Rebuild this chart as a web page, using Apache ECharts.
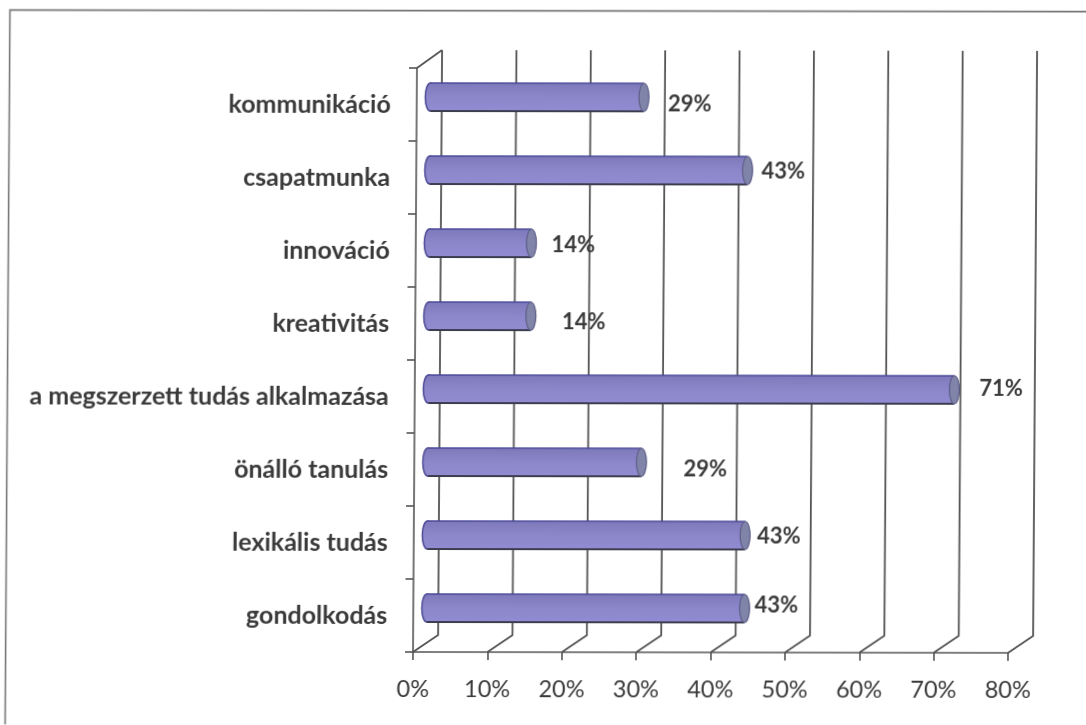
<!DOCTYPE html>
<html><head><meta charset="utf-8">
<style>html,body{margin:0;padding:0;background:#fff;overflow:hidden}
#c{width:1086px;height:725px;transform-origin:413px 652px;transform:matrix(1,0.0015,-0.0068,1,0,0)}</style>
<script src="https://cdn.jsdelivr.net/npm/echarts@6/dist/echarts.min.js"></script>
</head><body><div id="c"></div>
<script>
const categories = ["gondolkodás","lexikális tudás","önálló tanulás","a megszerzett tudás alkalmazása","kreativitás","innováció","csapatmunka","kommunikáció"];
const values = [43,43,29,71,14,14,43,29];
const tickValues = [0,10,20,30,40,50,60,70,80];
const labelDx = [5,7,37,20,26,15,9,19];
const labelDy = [-3,1,7,-1,6,2,1,7];
const chart = echarts.init(document.getElementById('c'),null,{renderer:'canvas'});
const LINE='#555';
chart.setOption({
  animation:false,
  backgroundColor:'#fff',
  graphic:[{type:'polyline',silent:true,shape:{points:[[5.6,800],[5.6,10.6],[1200,10.6]]},style:{fill:null,stroke:'#777',lineWidth:1.6}}],
  grid:[
    {left:413,width:595,top:68,height:584},
    {left:421.5,width:595,top:60.5,height:584}
  ],
  xAxis:[
    {gridIndex:0,type:'value',min:0,max:80,interval:10,splitLine:{show:false},
     axisLine:{show:true,lineStyle:{color:LINE,width:1.6}},
     axisTick:{show:true,length:8,lineStyle:{color:LINE,width:1.6}},
     axisLabel:{formatter:'{value}%',fontFamily:'Lato',fontSize:23.5,color:'#3a3a3a',margin:25}},
    {gridIndex:1,type:'value',min:0,max:80,interval:10,show:false}
  ],
  yAxis:[
    {gridIndex:0,type:'category',data:categories,
     axisLine:{show:true,onZero:false,lineStyle:{color:LINE,width:1.6}},
     axisTick:{show:true,length:8,alignWithLabel:false,lineStyle:{color:LINE,width:1.6}},
     axisLabel:{fontFamily:'Lato',fontWeight:700,fontSize:25,color:'#3a3a3a',margin:26,padding:[12,0,0,0]}},
    {gridIndex:1,type:'category',data:categories,show:false}
  ],
  series:[
    {type:'custom',xAxisIndex:0,yAxisIndex:0,silent:true,z:1,clip:false,
     data:tickValues.map(v=>[v,0]),
     renderItem(p,api){
       const x=api.coord([api.value(0),0])[0];
       const r=p.coordSys, bottom=r.y+r.height, top=r.y, dx=25, dy=17, topBack=top-18;
       const st={stroke:LINE,lineWidth:1.8,fill:null};
       const pts=[[x,bottom],[x+dx,bottom-dy],[x+dx,topBack]];
       const kids=[{type:'polyline',shape:{points:pts},style:st}];
       if(api.value(0)===0) kids.push({type:'line',shape:{x1:x,y1:top,x2:x+dx,y2:topBack},style:st});
       return {type:'group',children:kids};
     }},
    {type:'custom',xAxisIndex:1,yAxisIndex:1,silent:true,z:3,clip:false,
     data:values.map((v,i)=>[v,i]),
     renderItem(p,api){
       const v=api.value(0), i=api.value(1);
       const c0=api.coord([0,i]), c1=api.coord([v,i]);
       const h=28, x0=c0[0], x1=c1[0]+8, yc=c0[1], y=yc-h/2, rx=5;
       const fill=new echarts.graphic.LinearGradient(0,0,0,1,[
            {offset:0,color:'#7d79ba'},{offset:.5,color:'#8c87ca'},{offset:1,color:'#918cd2'}]);
       return {type:'group',children:[
         {type:'ellipse',shape:{cx:x0+rx,cy:yc,rx:rx,ry:h/2},style:{fill:fill,stroke:'#4d4b96',lineWidth:1.5}},
         {type:'rect',shape:{x:x0+rx,y:y,width:x1-x0-2*rx,height:h},style:{fill:fill}},
         {type:'line',shape:{x1:x0+rx,y1:y,x2:x1-rx,y2:y},style:{stroke:'#4b4a9a',lineWidth:1.5}},
         {type:'line',shape:{x1:x0+rx,y1:y+h,x2:x1-rx,y2:y+h},style:{stroke:'#3d3d50',lineWidth:2}},
         {type:'ellipse',shape:{cx:x1-rx,cy:yc,rx:rx,ry:h/2},style:{fill:'#7f84a8',stroke:'#5d5d88',lineWidth:1.2}},
         {type:'text',style:{x:x1+labelDx[i],y:yc+labelDy[i],text:v+'%',textAlign:'left',textVerticalAlign:'middle',
           fontFamily:'Lato',fontWeight:700,fontSize:22,fill:'#3a3a3a'}}
       ]};
     }}
  ]
});
</script></body></html>
